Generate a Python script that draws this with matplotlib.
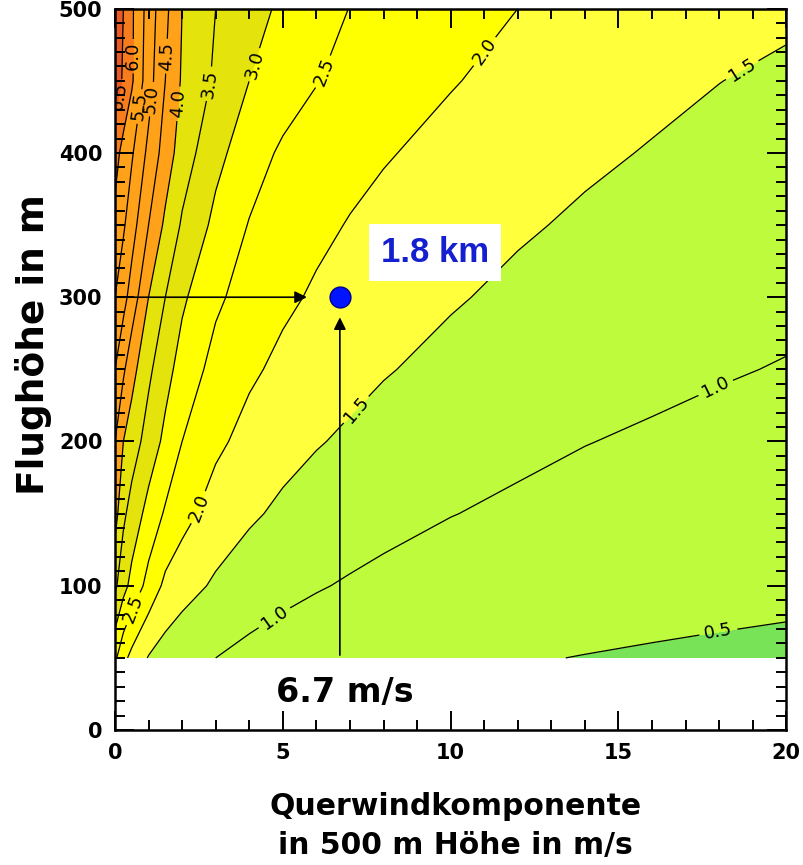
import matplotlib
matplotlib.use("Agg")
import matplotlib.pyplot as plt
import numpy as np

# crosswind component in 500 m height (m/s)
wind = [0, 0.25, 0.5, 1, 1.5, 2, 3, 4, 5, 6, 7, 8, 10, 12, 14, 16, 18, 20]
# flight height (m)
height = [50, 100, 150, 200, 250, 300, 350, 400, 450, 500]

# distance (km), one row per flight height
dist_50 = [2.6, 2.14, 1.86, 1.47, 1.28, 1.16, 1.0, 0.88, 0.79, 0.73, 0.68, 0.635, 0.57, 0.525, 0.49, 0.46, 0.435, 0.415]
dist_100 = [3.6, 3.17, 2.85, 2.33, 1.89, 1.69, 1.43, 1.24, 1.12, 1.03, 0.96, 0.90, 0.81, 0.745, 0.69, 0.65, 0.615, 0.585]
dist_150 = [4.2, 3.6, 3.3, 2.83, 2.44, 2.17, 1.78, 1.57, 1.41, 1.29, 1.20, 1.125, 1.01, 0.93, 0.86, 0.81, 0.77, 0.73]
dist_200 = [4.5, 4.0, 3.75, 3.29, 2.88, 2.5, 2.1, 1.84, 1.66, 1.53, 1.43, 1.34, 1.20, 1.09, 1.01, 0.95, 0.90, 0.855]
dist_250 = [5.0, 4.58, 4.17, 3.6, 3.17, 2.81, 2.33, 2.08, 1.89, 1.74, 1.63, 1.53, 1.38, 1.26, 1.17, 1.095, 1.03, 0.98]
dist_300 = [5.5, 5.17, 4.79, 4.0, 3.5, 3.08, 2.59, 2.29, 2.09, 1.94, 1.81, 1.70, 1.54, 1.41, 1.305, 1.22, 1.15, 1.09]
dist_350 = [5.85, 5.57, 5.21, 4.5, 3.9, 3.44, 2.875, 2.475, 2.26, 2.10, 1.975, 1.86, 1.68, 1.55, 1.44, 1.35, 1.27, 1.20]
dist_400 = [6.2, 5.83, 5.56, 4.875, 4.28, 3.75, 3.14, 2.73, 2.42, 2.26, 2.14, 2.04, 1.85, 1.69, 1.57, 1.475, 1.39, 1.32]
dist_450 = [6.8, 6.43, 6.07, 5.21, 4.5, 3.94, 3.42, 3.0, 2.76, 2.52, 2.36, 2.23, 2.03, 1.85, 1.71, 1.60, 1.505, 1.43]
dist_500 = [7.0, 6.5, 6.08, 5.29, 4.625, 4.0, 3.5, 3.19, 2.91, 2.70, 2.49, 2.355, 2.15, 2.0, 1.86, 1.745, 1.65, 1.57]

line_levels = [0.5, 1.0, 1.5, 2.0, 2.5, 3.0, 3.5, 4.0, 4.5, 5.0, 5.5, 6.0, 6.5]
fill_levels = [0, 0.5, 1.5, 2.0, 3.0, 4.0, 6.0, 6.5, 10]
fill_colors = ['#78e356', '#bdfb3c', '#ffff3c', '#ffff00', '#e4e40c', '#ffa21a', '#f67c1e', '#e85a28']

# example point
point_wind = 6.7
point_height = 300

Z = np.array([dist_50, dist_100, dist_150, dist_200, dist_250,
              dist_300, dist_350, dist_400, dist_450, dist_500])
X, Y = np.meshgrid(wind, height)

fig = plt.figure(figsize=(8.04, 8.65), dpi=100)
ax = fig.add_axes([0.143, 0.156, 0.835, 0.834])

ax.contourf(X, Y, Z, levels=fill_levels, colors=fill_colors)
cs = ax.contour(X, Y, Z, levels=line_levels, colors='black', linewidths=0.9)

label_pos = [(18.0, 65), (4.5, 85), (17.9, 237), (7.3, 220), (18.7, 457),
             (2.4, 155), (10.9, 472), (0.55, 84), (6.1, 457), (4.0, 462),
             (2.8, 448), (1.9, 434), (1.6, 467), (1.2, 437), (0.8, 432),
             (0.6, 467), (0.2, 439)]
ax.clabel(cs, fmt='%.1f', fontsize=13, inline=True, manual=label_pos)

# arrows to the example point
ax.annotate('', xy=(5.8, point_height), xytext=(0, point_height),
            arrowprops=dict(arrowstyle='-|>', color='black', lw=1.2, mutation_scale=18))
ax.annotate('', xy=(point_wind, 288), xytext=(point_wind, 50),
            arrowprops=dict(arrowstyle='-|>', color='black', lw=1.2, mutation_scale=18))
ax.plot(point_wind, point_height, 'o', ms=15, mfc='#0014ff', mec='#000090', mew=1.0)

ax.text(9.54, 331, '1.8 km', color='#1420d0', fontsize=25, fontweight='bold',
        family='Liberation Sans', ha='center', va='center',
        bbox=dict(boxstyle='square,pad=0.35', fc='white', ec='none'))
ax.text(6.85, 26, '6.7 m/s', color='black', fontsize=24, fontweight='bold',
        family='DejaVu Sans', ha='center', va='center')

ax.set_xlim(0, 20)
ax.set_ylim(0, 500)
ax.set_xticks([0, 5, 10, 15, 20])
ax.set_yticks([0, 100, 200, 300, 400, 500])
ax.set_xticks(np.arange(0, 21, 1), minor=True)
ax.set_yticks(np.arange(0, 501, 10), minor=True)
ax.tick_params(which='both', direction='in', top=True, right=True, width=1.4)
ax.tick_params(which='major', length=14, labelsize=15, pad=9)
ax.tick_params(which='minor', length=7)
for lab in ax.get_xticklabels() + ax.get_yticklabels():
    lab.set_fontweight('bold')
for sp in ax.spines.values():
    sp.set_linewidth(1.8)

ax.set_xlabel('Querwindkomponente\nin 500 m Höhe in m/s', fontsize=21.5, fontweight='bold',
              family='DejaVu Sans', linespacing=1.45)
ax.xaxis.set_label_coords(0.507, -0.086)
ax.set_ylabel('Flughöhe in m', fontsize=27, fontweight='bold', family='DejaVu Sans')
ax.yaxis.set_label_coords(-0.094, 0.534)

fig.savefig('out.png', dpi=100)
